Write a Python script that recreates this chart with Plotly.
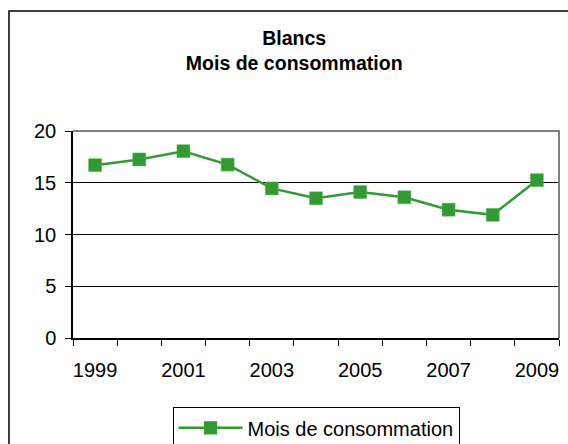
import plotly.graph_objects as go

years = [1999, 2000, 2001, 2002, 2003, 2004, 2005, 2006, 2007, 2008, 2009]
values = [16.7, 17.25, 18.05, 16.75, 14.45, 13.5, 14.1, 13.6, 12.4, 11.9, 15.25]
label_years = [1999, 2001, 2003, 2005, 2007, 2009]
y_ticks = [0, 5, 10, 15, 20]
series_name = "Mois de consommation"
title_lines = ["Blancs", "Mois de consommation"]

FONT = "Arial, Liberation Sans, sans-serif"
GREEN = "#339933"

fig = go.Figure()
fig.add_trace(go.Scatter(
    x=years, y=values, mode="lines+markers", name=series_name,
    line=dict(color=GREEN, width=2.5),
    marker=dict(symbol="square", size=13, color=GREEN,
                line=dict(color="#5cb85c", width=0.5)),
    xaxis="x", yaxis="y",
))

boundaries = [y - 0.5 for y in years] + [years[-1] + 0.5]
xr = [years[0] - 0.5, years[-1] + 0.5]

fig.update_layout(
    width=568, height=444,
    margin=dict(l=73, r=9, t=131, b=106, autoexpand=False),
    paper_bgcolor="white", plot_bgcolor="white",
    font=dict(family=FONT, size=20, color="black"),
    title=dict(text="<b>" + title_lines[0] + "</b><br><b>" + title_lines[1] + "</b>",
               x=0.518, xanchor="center", y=0.899, yanchor="top",
               font=dict(family=FONT, size=19.5, color="black")),
    xaxis=dict(range=xr, tickvals=boundaries, ticktext=["" for _ in boundaries],
               ticks="outside", ticklen=6, tickcolor="black", tickwidth=1,
               showline=True, linecolor="black", linewidth=1.5,
               showgrid=False, zeroline=False, fixedrange=True, automargin=False),
    xaxis2=dict(range=xr, overlaying="x", matches="x", side="bottom",
                tickvals=label_years, ticktext=[str(y) for y in label_years],
                ticks="", showline=False, showgrid=False, zeroline=False,
                ticklabelstandoff=18, automargin=False,
                tickfont=dict(family=FONT, size=20, color="black")),
    yaxis=dict(range=[0, 20], tickvals=y_ticks, ticks="outside", ticklen=6,
               tickcolor="black", showline=True, linecolor="black", linewidth=1.5,
               showgrid=True, gridcolor="black", gridwidth=1, zeroline=False,
               automargin=False, ticklabelstandoff=5,
               tickfont=dict(family=FONT, size=20, color="black")),
    showlegend=True,
    legend=dict(orientation="h", x=0.5, xanchor="center", y=-0.335, yanchor="top",
                bordercolor="black", borderwidth=1, bgcolor="white",
                font=dict(family=FONT, size=20, color="black"), itemwidth=64),
)
fig.add_trace(go.Scatter(x=years, y=values, xaxis="x2", yaxis="y", mode="none",
                         showlegend=False, hoverinfo="skip"))

fig.add_shape(type="path", xref="paper", yref="paper",
              path="M 0,1 L 1,1 L 1,0", line=dict(color="#808080", width=2),
              layer="above")
fig.add_shape(type="rect", xref="paper", yref="paper",
              x0=-0.1317, x1=1.05, y0=-0.6, y1=1.5797,
              line=dict(color="black", width=1.5), layer="below")

fig.write_html("out.html", config={"displayModeBar": False},
               post_script="document.body.style.margin='0';")
